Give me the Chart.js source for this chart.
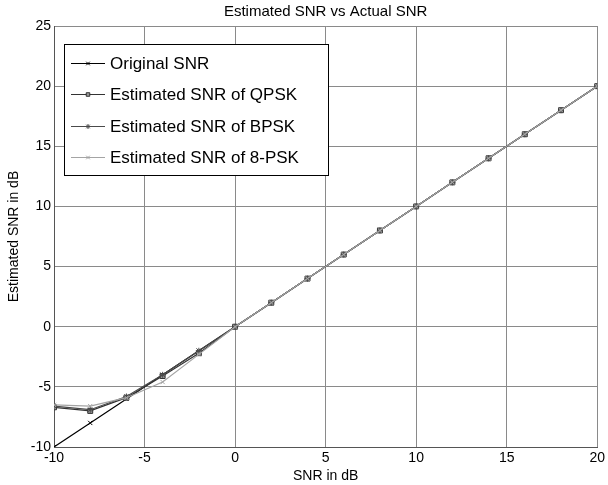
<!DOCTYPE html>
<html lang="en">
<head>
    <meta charset="UTF-8">
    <title>Estimated SNR vs Actual SNR</title>
    <script src="https://cdn.jsdelivr.net/npm/chart.js"></script>
    <style>
        body { margin: 0; background: #fff; }
        canvas { display: block; }
    </style>
</head>
<body>
    <canvas id="snr-chart" width="608" height="485"></canvas>
    <script>
        const snr = [-10, -8, -6, -4, -2, 0, 2, 4, 6, 8, 10, 12, 14, 16, 18, 20];
        const originalSnr = [-10, -8, -6, -4, -2, 0, 2, 4, 6, 8, 10, 12, 14, 16, 18, 20];
        const qpskSnr = [-6.7, -7.0, -5.9, -4.1, -2.2, 0, 2, 4, 6, 8, 10, 12, 14, 16, 18, 20];
        const bpskSnr = [-6.6, -6.9, -5.8, -4.0, -2.0, 0, 2, 4, 6, 8, 10, 12, 14, 16, 18, 20];
        const psk8Snr = [-6.5, -6.6, -5.9, -4.6, -2.3, 0, 2, 4, 6, 8, 10, 12, 14, 16, 18, 20];

        const FONT = "'Liberation Sans', Arial, sans-serif";

        const toPoints = (ys) => snr.map((x, i) => ({ x: x, y: ys[i] }));

        // order: later MATLAB series sit on top, so 8-PSK gets the lowest order
        const makeSet = (label, ys, color, marker, fill, size, order) => ({
            label: label,
            data: toPoints(ys),
            order: order,
            borderColor: color,
            backgroundColor: fill,
            borderWidth: 1.2,
            pointStyle: marker,
            pointRadius: size,
            pointBorderColor: color,
            pointBackgroundColor: fill,
            pointBorderWidth: 1,
            tension: 0
        });

        // MATLAB-style boxed legend inside the axes, plus the title over the plot
        const insideLegend = {
            id: "insideLegend",
            afterDraw(chart) {
                const ctx = chart.ctx;
                const area = chart.chartArea;
                ctx.save();
                ctx.fillStyle = "#000";
                ctx.font = "15px " + FONT;
                ctx.textAlign = "center";
                ctx.textBaseline = "middle";
                ctx.fillText("Estimated SNR vs Actual SNR", (area.left + area.right) / 2, 12);

                const bx = 64, by = 44, bw = 264, bh = 131;
                ctx.fillStyle = "#fff";
                ctx.fillRect(bx, by, bw, bh);
                ctx.strokeStyle = "#000";
                ctx.lineWidth = 1;
                ctx.strokeRect(bx + 0.5, by + 0.5, bw, bh);

                chart.data.datasets.forEach((ds, i) => {
                    const y = Math.round(63 + i * 31.3) + 0.5;
                    ctx.strokeStyle = ds.borderColor;
                    ctx.fillStyle = ds.backgroundColor;
                    ctx.lineWidth = 1;
                    ctx.beginPath();
                    ctx.moveTo(71, y);
                    ctx.lineTo(105, y);
                    ctx.stroke();
                    Chart.helpers.drawPoint(ctx, {
                        pointStyle: ds.pointStyle,
                        radius: 2.5,
                        borderWidth: 1
                    }, 88, y);
                    ctx.fillStyle = "#000";
                    ctx.font = "17px " + FONT;
                    ctx.textAlign = "left";
                    ctx.fillText(ds.label, 110, y + 0.5);
                });
                ctx.restore();
            }
        };

        const snrChart = new Chart(document.getElementById("snr-chart"), {
            type: "line",
            data: {
                datasets: [
                    makeSet("Original SNR", originalSnr, "#000000", "crossRot", "#000000", 3, 4),
                    makeSet("Estimated SNR of QPSK", qpskSnr, "#333333", "rect", "#9a9a9a", 3.5, 3),
                    makeSet("Estimated SNR of BPSK", bpskSnr, "#4a4a4a", "star", "#4a4a4a", 3, 2),
                    makeSet("Estimated SNR of 8-PSK", psk8Snr, "#a4a4a4", "crossRot", "#a4a4a4", 3, 1)
                ]
            },
            options: {
                responsive: false,
                devicePixelRatio: 1,
                animation: false,
                layout: { padding: { top: 26, right: 9, left: 0, bottom: 0 } },
                plugins: {
                    legend: { display: false },
                    title: { display: false },
                    tooltip: { enabled: false }
                },
                scales: {
                    x: {
                        type: "linear",
                        min: -10,
                        max: 20,
                        ticks: { stepSize: 5, color: "#000", font: { family: FONT, size: 14 }, padding: 3 },
                        grid: { color: "#8a8a8a", drawTicks: false },
                        border: { color: "#555" },
                        title: { display: true, text: "SNR in dB", color: "#000", font: { family: FONT, size: 14 }, padding: { top: 0, bottom: 0 } },
                        afterFit(scale) { scale.height = 38; }
                    },
                    y: {
                        min: -10,
                        max: 25,
                        ticks: { stepSize: 5, color: "#000", font: { family: FONT, size: 14 }, padding: 3 },
                        grid: { color: "#8a8a8a", drawTicks: false },
                        border: { color: "#555" },
                        title: { display: true, text: "Estimated SNR in dB", color: "#000", font: { family: FONT, size: 14 }, padding: { top: 6, bottom: 0 } },
                        afterFit(scale) { scale.width = 54; }
                    }
                }
            },
            plugins: [insideLegend]
        });
    </script>
</body>
</html>
